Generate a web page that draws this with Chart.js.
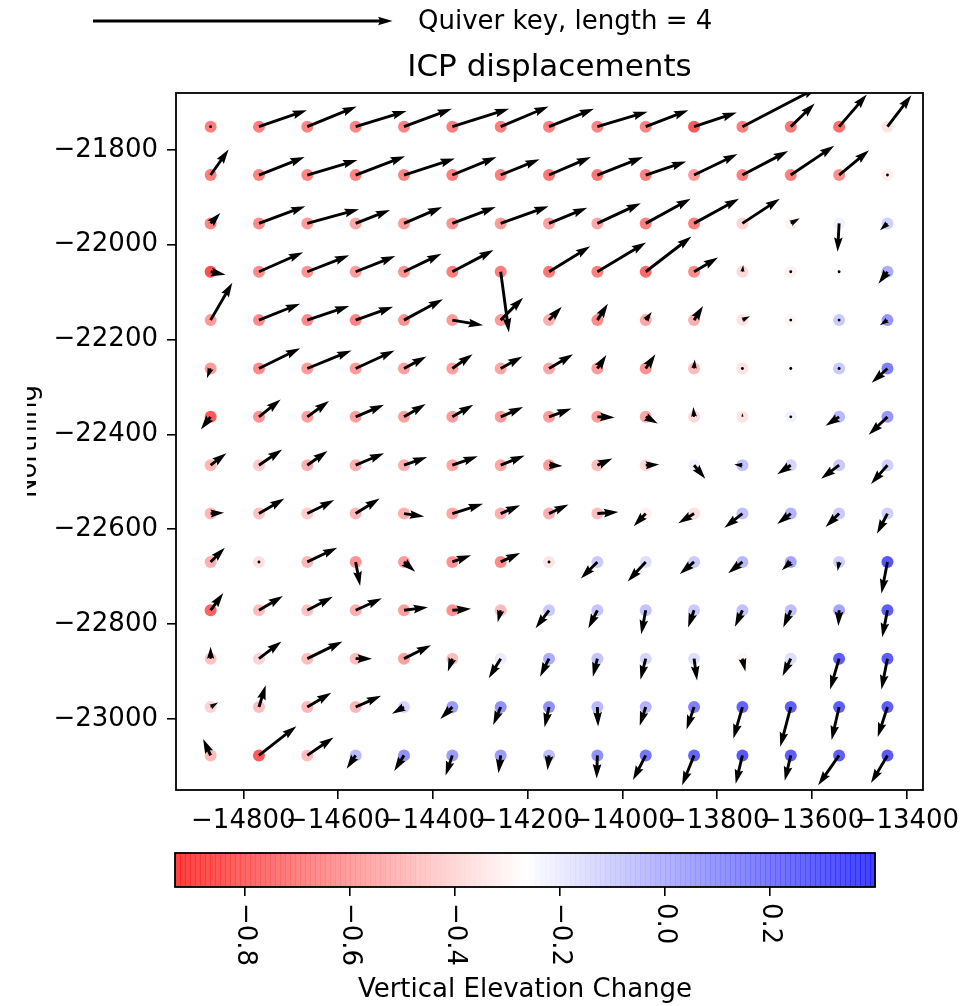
<!DOCTYPE html>
<html>
<head>
<meta charset="utf-8">
<script src="https://cdn.jsdelivr.net/npm/chart.js@4.4.1/dist/chart.umd.min.js"></script>
<style>
  html, body { margin: 0; padding: 0; background: #fff; }
  #wrap { position: relative; width: 980px; height: 1006px; }
  canvas { position: absolute; left: 0; }
  #quiver { top: 0; }
  #cbar { top: 840px; }
</style>
</head>
<body>
<div id="wrap">
  <canvas id="quiver" width="980" height="840"></canvas>
  <canvas id="cbar" width="980" height="166"></canvas>
</div>
<script>
// grid (Easting / Northing)
const eastings = [-14869, -14767, -14665, -14563, -14461, -14359, -14257, -14155, -14053, -13951, -13849, -13747, -13645, -13543, -13441];
const northings = [-21751, -21853, -21955, -22057, -22159, -22261, -22363, -22465, -22567, -22669, -22771, -22873, -22975, -23077];

// vertical elevation change, one row per northing
const elevation = [
  [-0.72, -0.72, -0.70, -0.70, -0.70, -0.72, -0.72, -0.72, -0.70, -0.70, -0.85, -0.72, -0.75, -0.78, -0.36],
  [-0.72, -0.70, -0.70, -0.70, -0.70, -0.72, -0.72, -0.75, -0.75, -0.72, -0.62, -0.72, -0.72, -0.66, -0.32],
  [-0.70, -0.68, -0.62, -0.58, -0.62, -0.65, -0.62, -0.60, -0.58, -0.72, -0.72, -0.42, -0.30, -0.22, -0.10],
  [-0.88, -0.68, -0.65, -0.62, -0.65, -0.72, -0.72, -0.75, -0.72, -0.80, -0.68, -0.40, -0.32, -0.27, 0.02],
  [-0.62, -0.68, -0.68, -0.70, -0.65, -0.62, -0.62, -0.55, -0.68, -0.58, -0.55, -0.36, -0.30, -0.08, 0.10],
  [-0.62, -0.68, -0.62, -0.62, -0.60, -0.60, -0.58, -0.58, -0.62, -0.65, -0.50, -0.36, -0.26, -0.08, 0.18],
  [-0.85, -0.65, -0.60, -0.60, -0.60, -0.62, -0.62, -0.62, -0.62, -0.58, -0.40, -0.36, -0.22, -0.02, 0.10],
  [-0.52, -0.45, -0.55, -0.55, -0.55, -0.58, -0.58, -0.62, -0.50, -0.40, -0.22, -0.05, -0.12, -0.08, -0.10],
  [-0.52, -0.48, -0.45, -0.52, -0.55, -0.58, -0.55, -0.55, -0.50, -0.32, -0.38, -0.05, 0.00, -0.08, -0.10],
  [-0.55, -0.38, -0.52, -0.65, -0.62, -0.65, -0.68, -0.36, -0.08, -0.15, -0.08, -0.02, 0.05, -0.10, 0.33],
  [-0.82, -0.50, -0.48, -0.55, -0.60, -0.65, -0.50, -0.08, -0.06, -0.06, -0.08, -0.05, -0.04, 0.05, 0.30],
  [-0.48, -0.42, -0.50, -0.50, -0.60, -0.50, -0.20, 0.02, -0.06, -0.12, -0.15, -0.30, -0.15, 0.30, 0.30],
  [-0.42, -0.50, -0.52, -0.52, -0.12, 0.08, 0.12, 0.12, -0.02, 0.00, 0.18, 0.28, 0.30, 0.30, 0.30],
  [-0.52, -0.85, -0.50, -0.02, 0.12, 0.08, 0.08, -0.04, 0.12, 0.22, 0.28, 0.32, 0.30, 0.30, 0.32]
];

// ICP displacement, east component
const dispU = [
  [0.00, 0.64, 0.66, 0.68, 0.64, 0.76, 0.64, 0.60, 0.67, 0.57, 0.57, 1.00, 0.32, 0.37, 0.32],
  [0.24, 0.61, 0.67, 0.66, 0.68, 0.59, 0.52, 0.56, 0.61, 0.54, 0.58, 0.61, 0.58, 0.40, 0.00],
  [0.13, 0.62, 0.69, 0.46, 0.51, 0.58, 0.64, 0.51, 0.58, 0.60, 0.60, 0.50, 0.12, -0.02, -0.10],
  [0.20, 0.59, 0.56, 0.53, 0.50, 0.55, 0.11, 0.55, 0.65, 0.61, 0.32, 0.01, 0.03, 0.00, -0.12],
  [0.29, 0.55, 0.56, 0.50, 0.52, 0.41, 0.30, 0.17, 0.14, 0.08, 0.12, 0.10, -0.02, 0.00, -0.10],
  [-0.05, 0.55, 0.59, 0.52, 0.30, 0.27, 0.29, 0.32, 0.12, 0.13, 0.01, 0.00, 0.00, 0.00, -0.21],
  [-0.13, 0.29, 0.29, 0.38, 0.29, 0.28, 0.30, 0.30, 0.23, 0.16, -0.01, 0.00, 0.00, -0.18, -0.25],
  [0.21, 0.31, 0.27, 0.38, 0.31, 0.34, 0.32, 0.18, 0.20, 0.18, 0.15, -0.11, -0.18, -0.24, -0.22],
  [0.18, 0.34, 0.36, 0.32, 0.27, 0.41, 0.26, 0.26, 0.28, -0.16, -0.21, -0.24, -0.18, -0.18, -0.14],
  [0.19, 0.00, 0.40, 0.06, 0.15, 0.25, 0.26, 0.00, -0.22, -0.24, -0.19, -0.19, -0.12, -0.02, -0.08],
  [0.17, 0.32, 0.34, 0.35, 0.32, 0.25, -0.04, -0.18, -0.12, -0.06, -0.08, -0.10, -0.10, -0.01, -0.07],
  [0.00, 0.30, 0.47, 0.22, 0.36, -0.06, -0.16, -0.12, -0.06, -0.07, 0.04, 0.04, -0.11, -0.12, -0.08],
  [0.10, 0.09, 0.32, 0.34, -0.16, -0.16, -0.10, -0.06, 0.01, -0.08, -0.10, -0.12, -0.14, -0.10, -0.13],
  [-0.10, 0.50, 0.35, -0.12, -0.13, -0.09, -0.03, -0.02, -0.01, -0.17, -0.16, -0.09, -0.08, -0.28, -0.22]
];

// ICP displacement, north component
const dispV = [
  [0.00, 0.22, 0.27, 0.21, 0.24, 0.24, 0.27, 0.24, 0.20, 0.22, 0.19, 0.52, 0.31, 0.43, 0.42],
  [0.34, 0.24, 0.20, 0.25, 0.22, 0.24, 0.21, 0.24, 0.24, 0.18, 0.28, 0.32, 0.39, 0.33, 0.00],
  [0.14, 0.23, 0.19, 0.18, 0.22, 0.22, 0.23, 0.21, 0.27, 0.33, 0.33, 0.33, 0.07, -0.38, -0.09],
  [-0.04, 0.26, 0.22, 0.21, 0.24, 0.29, -0.81, 0.34, 0.39, 0.47, 0.19, 0.09, 0.00, 0.00, -0.16],
  [0.50, 0.22, 0.19, 0.18, 0.28, -0.07, 0.30, 0.18, 0.22, 0.11, 0.19, 0.05, 0.00, 0.00, -0.07],
  [-0.13, 0.27, 0.24, 0.24, 0.16, 0.19, 0.16, 0.19, 0.18, 0.19, 0.12, 0.00, 0.00, 0.00, -0.19],
  [-0.17, 0.23, 0.21, 0.16, 0.17, 0.16, 0.13, 0.11, -0.01, -0.09, 0.13, 0.05, 0.00, -0.12, -0.24],
  [0.16, 0.21, 0.19, 0.16, 0.11, 0.12, 0.13, -0.01, 0.09, 0.01, -0.18, 0.01, -0.12, -0.18, -0.25],
  [0.01, 0.20, 0.18, 0.20, -0.04, 0.13, 0.11, 0.12, 0.02, -0.17, -0.13, -0.19, -0.14, -0.18, -0.27],
  [0.19, 0.00, 0.19, -0.32, -0.13, 0.09, 0.12, 0.00, -0.22, -0.26, -0.16, -0.15, -0.11, -0.12, -0.42],
  [0.23, 0.19, 0.18, 0.16, 0.04, 0.02, -0.16, -0.24, -0.24, -0.32, -0.23, -0.22, -0.23, -0.21, -0.36],
  [0.16, 0.23, 0.23, 0.00, 0.18, -0.17, -0.26, -0.24, -0.24, -0.28, -0.29, -0.17, -0.23, -0.41, -0.41],
  [0.06, 0.29, 0.19, 0.15, -0.09, -0.16, -0.24, -0.27, -0.26, -0.25, -0.30, -0.42, -0.53, -0.44, -0.40],
  [0.22, 0.39, 0.24, -0.18, -0.21, -0.27, -0.24, -0.20, -0.31, -0.33, -0.40, -0.38, -0.34, -0.40, -0.37]
];

const xTickValues = [-14800, -14600, -14400, -14200, -14000, -13800, -13600, -13400];
const yTickValues = [-21800, -22000, -22200, -22400, -22600, -22800, -23000];
const cbTickValues = [-0.8, -0.6, -0.4, -0.2, 0.0, 0.2];

const keyLength = 4;
const quiverScale = 158;     // map units per displacement unit
const cbMin = -0.933, cbMax = 0.40;

const FONT = "'DejaVu Sans', sans-serif";
Chart.defaults.font.family = FONT;

// bwr reversed, drawn with alpha like the scatter
function bwrR(v, alpha) {
    let t = (v - cbMin) / (cbMax - cbMin);
    t = Math.max(0, Math.min(1, t));
    let r, g, b;
    if (t < 0.5) { r = 255; g = b = Math.round(510 * t); }
    else { r = g = Math.round(510 * (1 - t)); b = 255; }
    return `rgba(${r},${g},${b},${alpha})`;
}

function minusFmt(v, digits) {
    const s = digits ? Math.abs(v).toFixed(digits) : String(Math.abs(v));
    return (v < 0 ? '\u2212' : '') + s;
}

const points = [];
const dotColors = [];
northings.forEach((y, j) => {
    eastings.forEach((x, i) => {
        points.push({x: x, y: y});
        dotColors.push(bwrR(elevation[j][i], 0.74));
    });
});

// matplotlib-ish quiver arrow, tail at (x0,y0)
const SHAFT = 2.9;
function drawArrow(ctx, x0, y0, x1, y1) {
    const dx = x1 - x0, dy = y1 - y0;
    const L = Math.hypot(dx, dy);
    const w = SHAFT, hl = 5 * w, hal = 4.5 * w, hw = 3 * w;
    ctx.save();
    ctx.translate(x0, y0);
    ctx.fillStyle = '#000';
    ctx.beginPath();
    if (L < w) {
        ctx.arc(0, 0, w / 2, 0, Math.PI * 2);
        ctx.fill();
        ctx.restore();
        return;
    }
    ctx.rotate(Math.atan2(dy, dx));
    let s = 1;
    if (L < hl) s = L / hl;
    ctx.moveTo(0, -w / 2 * s);
    ctx.lineTo(L - hal * s, -w / 2 * s);
    ctx.lineTo(L - hl * s, -hw / 2 * s);
    ctx.lineTo(L, 0);
    ctx.lineTo(L - hl * s, hw / 2 * s);
    ctx.lineTo(L - hal * s, w / 2 * s);
    ctx.lineTo(0, w / 2 * s);
    ctx.closePath();
    ctx.fill();
    ctx.restore();
}

const quiverPlugin = {
    id: 'quiver',
    afterDatasetsDraw(chart) {
        const {ctx, chartArea, scales: {x, y}} = chart;
        ctx.save();
        ctx.beginPath();
        ctx.rect(chartArea.left, chartArea.top, chartArea.right - chartArea.left, chartArea.bottom - chartArea.top);
        ctx.clip();
        northings.forEach((ny, j) => {
            eastings.forEach((ex, i) => {
                const x0 = x.getPixelForValue(ex);
                const y0 = y.getPixelForValue(ny);
                const x1 = x.getPixelForValue(ex + dispU[j][i] * quiverScale);
                const y1 = y.getPixelForValue(ny + dispV[j][i] * quiverScale);
                drawArrow(ctx, x0, y0, x1, y1);
            });
        });
        ctx.restore();
    },
    afterDraw(chart) {
        const {ctx, chartArea, scales: {x}} = chart;
        // frame
        ctx.save();
        ctx.strokeStyle = '#000';
        ctx.lineWidth = 1.8;
        ctx.strokeRect(chartArea.left, chartArea.top, chartArea.right - chartArea.left, chartArea.bottom - chartArea.top);

        // quiver key
        const keyPx = x.getPixelForValue(eastings[0] + keyLength * quiverScale) - x.getPixelForValue(eastings[0]);
        drawArrow(ctx, 93, 21, 93 + keyPx, 21);
        ctx.fillStyle = '#000';
        ctx.font = `26px ${FONT}`;
        ctx.textAlign = 'left';
        ctx.textBaseline = 'middle';
        ctx.fillText('Quiver key, length = ' + keyLength, 418, 22);

        // title
        ctx.font = `31px ${FONT}`;
        ctx.textAlign = 'center';
        ctx.textBaseline = 'alphabetic';
        ctx.fillText('ICP displacements', (chartArea.left + chartArea.right) / 2, 76);

        // y label, cut at the left like the original
        ctx.beginPath();
        ctx.rect(27, 0, 200, 840);
        ctx.clip();
        ctx.translate(36, (chartArea.top + chartArea.bottom) / 2);
        ctx.rotate(-Math.PI / 2);
        ctx.font = `26px ${FONT}`;
        ctx.fillText('Northing', 0, 0);
        ctx.restore();
    }
};

new Chart(document.getElementById('quiver'), {
    type: 'scatter',
    data: {
        datasets: [{
            data: points,
            backgroundColor: dotColors,
            borderWidth: 0,
            pointRadius: 6,
            pointHoverRadius: 6
        }]
    },
    options: {
        responsive: false,
        animation: false,
        events: [],
        layout: {padding: {top: 93, right: 57, left: 0, bottom: 0}},
        plugins: {legend: {display: false}, tooltip: {enabled: false}},
        scales: {
            x: {
                type: 'linear',
                min: -14942,
                max: -13366,
                afterBuildTicks: s => { s.ticks = xTickValues.map(v => ({value: v})); },
                afterFit: s => { s.height = 50; },
                ticks: {
                    callback: v => minusFmt(v),
                    font: {size: 26},
                    color: '#000',
                    padding: 7,
                    autoSkip: false,
                    maxRotation: 0,
                    minRotation: 0
                },
                grid: {drawOnChartArea: false, tickLength: 9, color: '#000', lineWidth: 1.6},
                border: {display: false}
            },
            y: {
                type: 'linear',
                min: -23150,
                max: -21680,
                afterBuildTicks: s => { s.ticks = yTickValues.map(v => ({value: v})); },
                afterFit: s => { s.width = 176; },
                ticks: {
                    callback: v => minusFmt(v),
                    font: {size: 26},
                    color: '#000',
                    padding: 9,
                    autoSkip: false
                },
                grid: {drawOnChartArea: false, tickLength: 9, color: '#000', lineWidth: 1.6},
                border: {display: false}
            }
        }
    },
    plugins: [quiverPlugin]
});

// colorbar
const colorbarPlugin = {
    id: 'colorbar',
    beforeDatasetsDraw(chart) {
        const {ctx, chartArea, scales: {x}} = chart;
        const n = 140;
        const h = chartArea.bottom - chartArea.top;
        ctx.save();
        for (let k = 0; k < n; k++) {
            const v0 = cbMin + (cbMax - cbMin) * k / n;
            const v1 = cbMin + (cbMax - cbMin) * (k + 1) / n;
            const p0 = x.getPixelForValue(v0);
            const p1 = x.getPixelForValue(v1);
            ctx.fillStyle = bwrR((v0 + v1) / 2, 0.75);
            ctx.fillRect(p0, chartArea.top, p1 - p0 + 0.6, h);
        }
        ctx.strokeStyle = '#000';
        ctx.lineWidth = 1.8;
        ctx.strokeRect(chartArea.left, chartArea.top, chartArea.right - chartArea.left, h);

        ctx.fillStyle = '#000';
        ctx.font = `26px ${FONT}`;
        cbTickValues.forEach(v => {
            ctx.save();
            ctx.translate(x.getPixelForValue(v), chartArea.bottom + 16);
            ctx.rotate(Math.PI / 2);
            ctx.textAlign = 'left';
            ctx.textBaseline = 'middle';
            ctx.fillText(minusFmt(v, 1), 0, 0);
            ctx.restore();
        });
        ctx.textAlign = 'center';
        ctx.textBaseline = 'alphabetic';
        ctx.fillText('Vertical Elevation Change', (chartArea.left + chartArea.right) / 2, 157);
        ctx.restore();
    }
};

new Chart(document.getElementById('cbar'), {
    type: 'scatter',
    data: {datasets: []},
    options: {
        responsive: false,
        animation: false,
        events: [],
        layout: {padding: {left: 175, right: 105, top: 13, bottom: 0}},
        plugins: {legend: {display: false}, tooltip: {enabled: false}},
        scales: {
            x: {
                type: 'linear',
                min: cbMin,
                max: cbMax,
                afterBuildTicks: s => { s.ticks = cbTickValues.map(v => ({value: v})); },
                afterFit: s => { s.height = 119; },
                ticks: {display: false},
                grid: {drawOnChartArea: false, tickLength: 9, color: '#000', lineWidth: 1.6},
                border: {display: false}
            },
            y: {display: false, min: 0, max: 1}
        }
    },
    plugins: [colorbarPlugin]
});
</script>
</body>
</html>
